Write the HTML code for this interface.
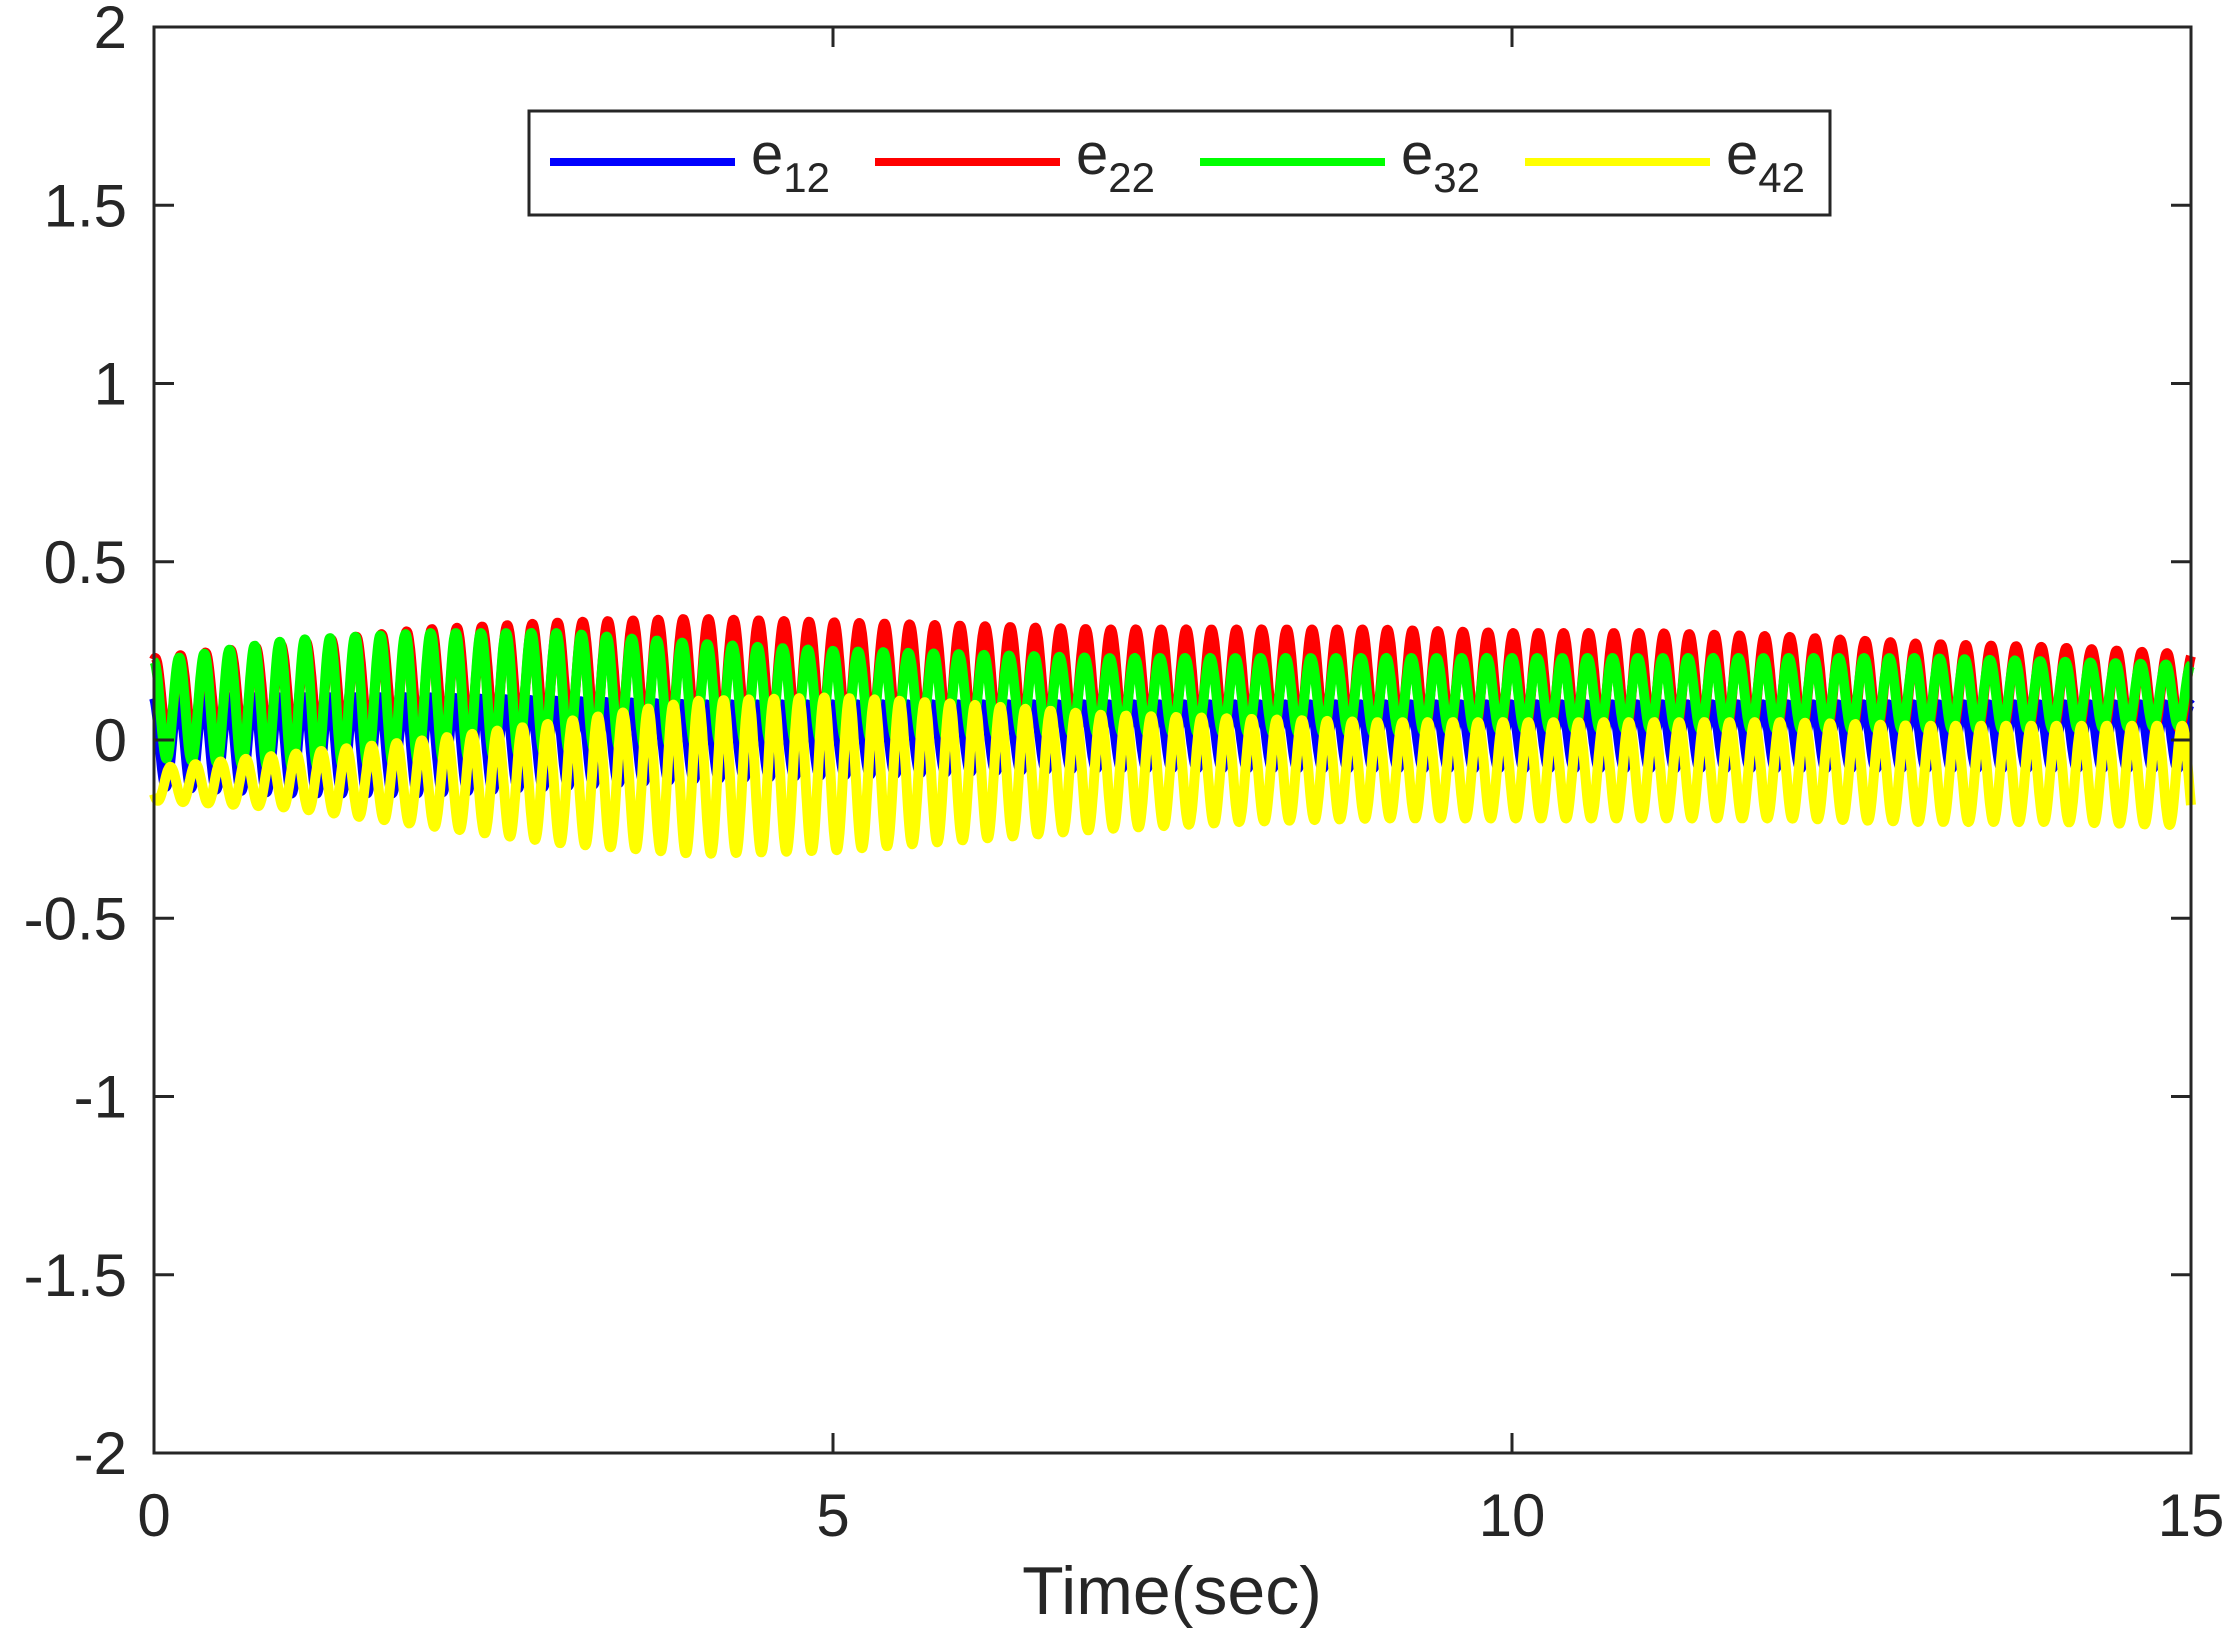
<!DOCTYPE html>
<html><head><meta charset="utf-8"><style>
html,body{margin:0;padding:0;background:#fff}
svg{display:block}
text{font-family:"Liberation Sans",sans-serif;fill:#262626}
</style></head><body>
<svg id="chart" width="2235" height="1637" viewBox="0 0 2235 1637" xmlns="http://www.w3.org/2000/svg">
<rect x="0" y="0" width="2235" height="1637" fill="#fff"/>
<g id="series"></g>
<g id="axes"></g>
<g id="legend"></g>
</svg>
<script>
const envTimes = [0,1,2,3,4,5,6,7,8,9,10,11,12,13,14,15];
const redMax = [.23,.27,.31,.33,.34,.33,.32,.31,.31,.31,.30,.30,.29,.27,.26,.24];
const redMin = [0,.01,.02,.03,.03,.03,.03,.03,.03,.03,.03,.03,.03,.03,.03,.03];
const blueMax = [.12,.12,.12,.11,.10,.10,.10,.10,.10,.10,.10,.10,.10,.10,.10,.10];
const blueMin = [-.13,-.15,-.15,-.13,-.11,-.10,-.09,-.08,-.08,-.08,-.08,-.08,-.08,-.08,-.08,-.08];
const greenMax = [.22,.28,.30,.30,.27,.25,.24,.23,.23,.23,.23,.23,.23,.23,.22,.21];
const greenMin = [-.05,-.08,-.06,-.03,-.01,0,.01,.02,.02,.02,.03,.03,.03,.03,.03,.04];
const yellowMax = [-.08,-.04,0,.05,.11,.12,.10,.07,.06,.05,.05,.05,.05,.04,.04,.04];
const yellowMin = [-.17,-.19,-.24,-.29,-.32,-.31,-.28,-.25,-.23,-.22,-.22,-.22,-.22,-.23,-.23,-.24];
const oscFreq = 5.4;
const xTicks = [0,5,10,15];
const yTicks = [-2,-1.5,-1,-0.5,0,0.5,1,1.5,2];
const yTickLabels = ["-2","-1.5","-1","-0.5","0","0.5","1","1.5","2"];
const seriesNames = ["e12","e22","e32","e42"];

const NS="http://www.w3.org/2000/svg";
const L=154,R=2191,T=27,B=1453;
const xs=t=>L+(t/15)*(R-L);
const ys=v=>B-((v+2)/4)*(B-T);
function interp(arr,t){let i=Math.min(Math.floor(t),14);const f=t-i;return arr[i]+(arr[i+1]-arr[i])*f;}
function mk(tag,attrs,parent){const e=document.createElementNS(NS,tag);for(const k in attrs)e.setAttribute(k,attrs[k]);parent.appendChild(e);return e;}
const sg=document.getElementById('series');
function drawSeries(mx,mn,phase,color,name){
  let d="";const N=4000;
  for(let i=0;i<=N;i++){const t=15*i/N;const a=interp(mx,t),b=interp(mn,t);
    const v=(a+b)/2+(a-b)/2*Math.cos(2*Math.PI*oscFreq*t+phase);
    d+=(i?"L":"M")+xs(t).toFixed(1)+","+ys(v).toFixed(1);}
  const p=mk('path',{d:d,fill:'none',stroke:color,'stroke-width':10,'stroke-linejoin':'round'},sg);
  
  
}
drawSeries(blueMax,blueMin,0.2,'#0000ff','series-e12');
drawSeries(redMax,redMin,-0.3,'#ff0000','series-e22');
drawSeries(greenMax,greenMin,0,'#00ff00','series-e32');
drawSeries(yellowMax,yellowMin,2.2,'#ffff00','series-e42');

const ax=document.getElementById('axes');
const box=mk('rect',{x:L,y:T,width:R-L,height:B-T,fill:'none',stroke:'#262626','stroke-width':3},ax);


xTicks.forEach(t=>{
  mk('line',{x1:xs(t),y1:B,x2:xs(t),y2:B-20,stroke:'#262626','stroke-width':3},ax);
  mk('line',{x1:xs(t),y1:T,x2:xs(t),y2:T+20,stroke:'#262626','stroke-width':3},ax);
  const tx=mk('text',{x:xs(t),y:1536,'text-anchor':'middle','font-size':60},ax);
  tx.textContent=String(t);
  
  
});
yTicks.forEach((v,i)=>{
  mk('line',{x1:L,y1:ys(v),x2:L+20,y2:ys(v),stroke:'#262626','stroke-width':3},ax);
  mk('line',{x1:R,y1:ys(v),x2:R-20,y2:ys(v),stroke:'#262626','stroke-width':3},ax);
  const tx=mk('text',{x:127,y:ys(v)+21,'text-anchor':'end','font-size':60},ax);
  tx.textContent=yTickLabels[i];
  
  
});
const xl=mk('text',{x:1172,y:1614,'text-anchor':'middle','font-size':68},ax);
xl.textContent="Time(sec)";



const lg=document.getElementById('legend');
const lb=mk('rect',{x:529,y:111,width:1301,height:104,fill:'#fff',stroke:'#262626','stroke-width':3},lg);


const lcols=['#0000ff','#ff0000','#00ff00','#ffff00'];
const lx=[550,875,1200,1525];
seriesNames.forEach((n,i)=>{
  const g=mk('g',{},lg);
  
  
  mk('line',{x1:lx[i],y1:162,x2:lx[i]+185,y2:162,stroke:lcols[i],'stroke-width':8},g);
  const tx=mk('text',{x:lx[i]+201,y:174,'font-size':58},g);
  tx.textContent='e';
  const s=mk('tspan',{dy:18,'font-size':42},tx);
  s.textContent=n.slice(1);
});
</script>
</body></html>
